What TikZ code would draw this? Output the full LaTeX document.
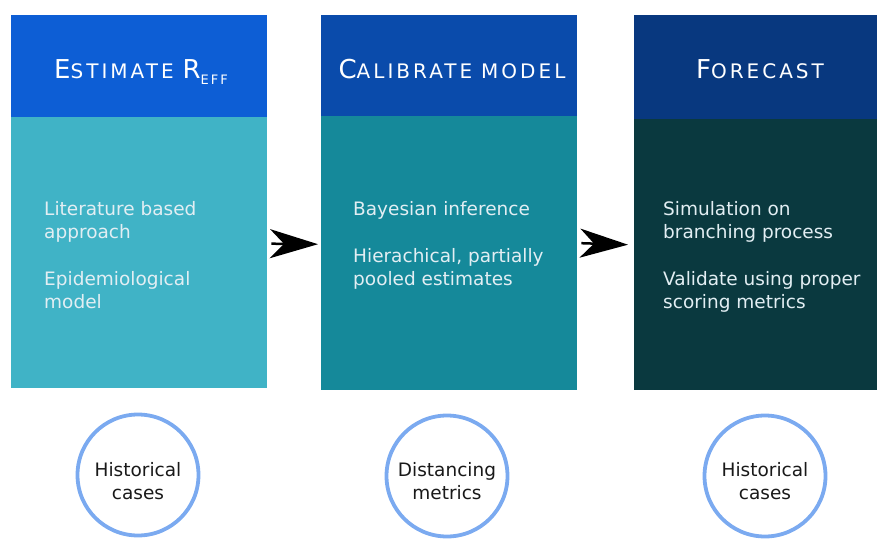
\documentclass[tikz,border=0pt]{standalone}
\usepackage{fontspec}
\setmainfont{DejaVu Sans}
\newfontfamily\hfont[LetterSpace=15]{DejaVu Sans}
\usetikzlibrary{arrows.meta}
\definecolor{hA}{HTML}{0D5ED5}
\definecolor{hB}{HTML}{0A4BAB}
\definecolor{hC}{HTML}{08387F}
\definecolor{bA}{HTML}{40B3C6}
\definecolor{bB}{HTML}{15899A}
\definecolor{bC}{HTML}{0A393F}
\definecolor{ring}{HTML}{7BAAF0}
\definecolor{btxt}{HTML}{E2EEF3}
\newcommand{\bigc}[1]{{\fontsize{26}{26}\selectfont #1}}
\newcommand{\smc}[1]{{\fontsize{20}{26}\selectfont #1}}
\begin{document}
\begin{tikzpicture}[x=1pt,y=-1pt,
  box/.style={rectangle, inner sep=0pt, anchor=north west, minimum width=256pt},
  htext/.style={text=white, font=\hfont, inner sep=0pt, anchor=base},
  btext/.style={text=btxt, inner sep=0pt, anchor=base west},
  circ/.style={circle, draw=ring, line width=3.8pt, minimum size=121pt, inner sep=0pt},
  ctext/.style={text=black!90, inner sep=0pt, anchor=base},
  arr/.style={line width=2.5pt, -{Stealth[length=48pt,width=29pt,inset=14pt]}}]
\useasboundingbox (0,0) rectangle (877,538);
% headers
\node[box, fill=hA, minimum height=102pt] (h1) at (11,15) {};
\node[box, fill=hB, minimum height=101pt] (h2) at (321,15) {};
\node[box, fill=hC, minimum height=104pt] (h3) at (634,15) {};
\node[htext] (ht1) at (141,78) {\bigc{E}\smc{STIMATE}\hspace{9pt}\bigc{R}\raisebox{-6pt}{\fontsize{13}{12}\selectfont EFF}};
\node[htext] (ht2) at (452,78) {\bigc{C}\smc{ALIBRATE}\hspace{9pt}\smc{MODEL}};
\node[htext] (ht3) at (760,78) {\bigc{F}\smc{ORECAST}};
% bodies
\node[box, fill=bA, minimum height=271pt] (b1) at (11,117) {};
\node[box, fill=bB, minimum height=274pt] (b2) at (321,116) {};
\node[box, fill=bC, minimum height=271pt] (b3) at (634,119) {};
% body texts
\node[btext] (t1) at (44,215) {\parbox[t]{220pt}{\fontsize{18.5}{23}\selectfont Literature based\\approach\\[24pt]Epidemiological\\model}};
\node[btext] (t2) at (353,215) {\parbox[t]{220pt}{\fontsize{18.5}{23}\selectfont Bayesian inference\\[24pt]Hierachical, partially\\pooled estimates}};
\node[btext] (t3) at (663,215) {\parbox[t]{220pt}{\fontsize{18.5}{23}\selectfont Simulation on\\branching process\\[24pt]Validate using proper\\scoring metrics}};
% arrows
\draw[arr] ([xshift=4pt,yshift=9pt]b1.east) -- ([xshift=-3pt,yshift=9pt]b2.west);
\draw[arr] ([xshift=4pt,yshift=10pt]b2.east) -- ([xshift=-6pt,yshift=10pt]b3.west);
% circles
\node[circ] (c1) at (138,475) {};
\node[circ] (c2) at (447,476) {};
\node[circ] (c3) at (765,476) {};
\node[ctext] (l1) at (138,476) {\parbox[t]{120pt}{\centering\fontsize{18.5}{23}\selectfont Historical\\cases}};
\node[ctext] (l2) at (447,476) {\parbox[t]{120pt}{\centering\fontsize{18.5}{23}\selectfont Distancing\\metrics}};
\node[ctext] (l3) at (765,476) {\parbox[t]{120pt}{\centering\fontsize{18.5}{23}\selectfont Historical\\cases}};
\end{tikzpicture}
\end{document}
